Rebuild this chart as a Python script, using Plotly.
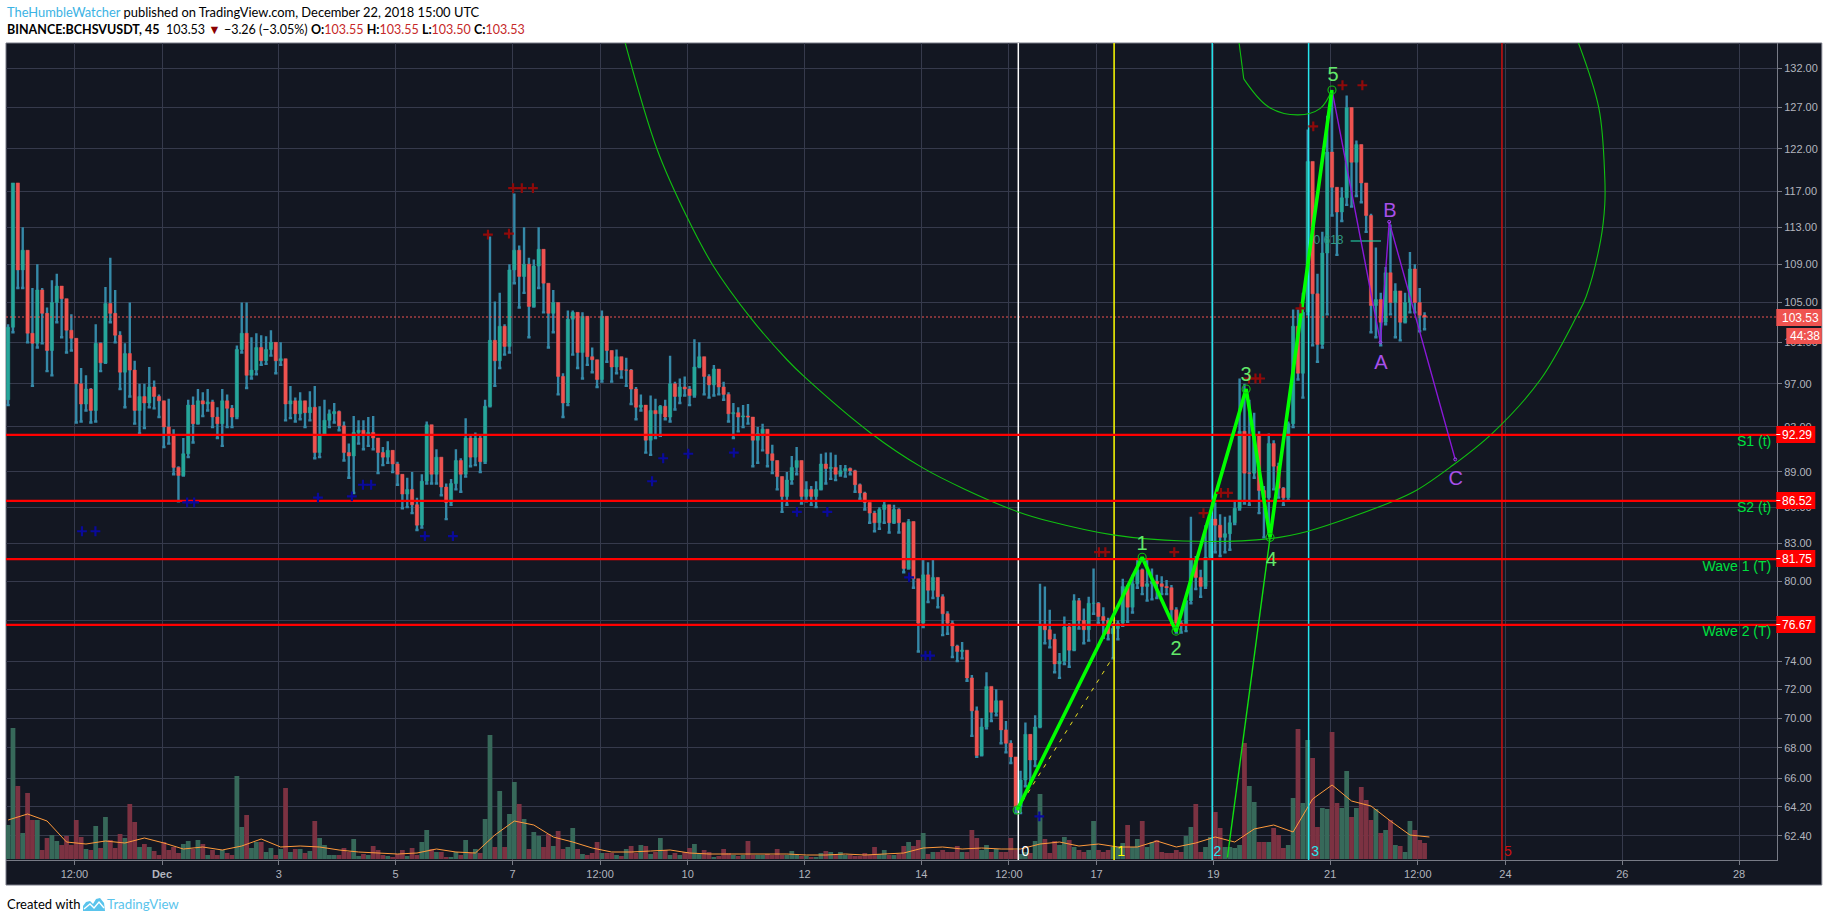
import math
import numpy as np
import plotly.graph_objects as go

# ---- chart data ----
candle_close = [
102.5,118,108.4,110.5,101.9,100.9,106.3,103.9,100.2,105,
106.7,105.4,102.2,101.4,97,95.1,96.5,94.5,100.9,99,
104.9,103.9,101.7,98.1,99.9,98.3,94.5,95.8,95.2,96.7,
95.8,95.4,93,92.3,89.4,88.7,90.6,95,93.3,95.4,
95.1,95.3,93.9,93.3,95.4,94.7,93.9,100.3,101.9,97.8,
98.3,100.5,99.2,100.3,101,99.2,99.4,95.1,95.4,94.2,
95.4,94.3,94.8,90.7,92.3,93.6,94.2,94.4,93.1,90.7,
90.4,92.5,92.7,92.3,92.5,92,90.7,90.3,90.9,89.7,
88.8,87.1,87.5,86.2,84.5,88.2,93.2,88.8,90.3,87.7,
86.4,88,90,88.8,92,90.3,92,89.9,94.9,101.2,
99.2,102.6,100.6,108.4,110.5,107.7,
109,104.6,108.8,110.6,107,103.9,105,97.7,95.2,103.3,
104,100,103.6,99.6,99.3,97.4,103.6,100.2,98.6,99.6,
98.3,98.3,96.5,94.8,95,91.8,94.5,94.2,94.9,93.9,
97,95.8,96.7,96.5,95.9,98.6,99.6,97.7,96.9,98.4,
96.7,96,94.2,94.3,93.9,94,93.9,91.8,92.4,92.8,
90.6,90,88.6,
86.9,88.3,89.4,90,86.9,87.5,86.9,87.5,89.7,89.3,
89.4,88.8,89.1,89.3,89.1,87.9,87.2,86.4,85.5,84.7,
85.8,86.2,84.7,85.8,84.7,81,84.8,80.2,76.8,80.5,
79.3,80.3,78.8,77.5,76.8,75.1,74.7,74.8,
72.8,70.5,67.5,69.4,72.2,70.4,71.2,69.2,68.3,67.4,
64.2,65.9,68.9,67.2,69.4,76.7,76.3,75.6,73.8,74,
76.5,74.8,78.5,77,76.3,78.3,78.3,77.3,77,76,
76.4,76.8,79.6,78,79.8,80.9,79.6,79.8,80,79.8,
79.6,79.5,77.8,76.8,76.7,78.5,81.7,80.3,79.6,81.9,
85,
84.5,83.5,83.8,84.7,85.9,92.6,88.9,88.9,92.3,87.4,
86.8,91.5,89.5,87.6,86.8,93.3,102.6,98,104,120.5,
105.9,100.8,110.2,121.6,117.5,114.7,116.3,127,120.4,122.5,
118,114.3,104.7,105.3,103,108.1,105,106.2,103,105,
108.5,105,103.7,103.53]

candle_high = [
102.8,118,114.6,113,110,106.5,109,106.5,104.5,107.3,
108,106.7,105.2,103.8,101,98.5,97.8,96.6,102.8,101,
106.6,109.7,106.3,102.1,100.9,105,99.2,97,97,98.6,
97.3,96,95.2,95.6,92.8,89.5,92,95.5,95.8,96.5,
96.2,96.5,95.5,94.8,96.5,96,95,100.7,105,105,
101.5,101.9,101.7,101.6,102.2,100.5,101,99.4,96.8,95.7,
96.2,95.4,96.3,96.8,94.9,95.5,94.6,95.2,94.5,93.5,
91.5,94,93.6,93.6,93.9,94,91.8,91.2,91.7,90.6,
89.9,88.7,88.5,89,86.8,88.8,93.5,93,91,90.2,
88,88.4,91,90.2,93.8,92.2,92.5,92.3,95.5,112,
105.1,106,102.8,109,116.8,111,
113,109.7,109.5,113,109.5,105.5,106.3,105,98,104.2,
104.2,104,104,102.9,100.5,98.2,104.2,103.4,100.2,100.3,
99.3,99.5,98.4,96.7,96,93.5,95.9,95.6,95,95.5,
99.7,97.2,97.5,97.7,96.8,101.3,101,99,97.9,98.8,
98.3,97.2,96.2,95.2,94.8,95,95.1,93.8,93,93.3,
92.8,91.4,89.8,
88,89,90.4,91.2,89.8,88.2,87.8,88.2,90.6,90.7,
90.7,90.5,89.6,89.6,89.4,89.2,88,87.3,86.4,85.7,
86,86.5,86,86.2,85.9,84,85,84.8,80.2,81.7,
81.5,81.7,80.3,79,77.7,77,75.2,75.4,
74.5,73,70.8,70,73.2,72.2,72,71.2,69.8,68.5,
67.4,66.5,69.7,68.9,70.2,79.8,79.6,77.8,76,74.6,
77.3,76.8,79,78.7,77.9,78.8,81,78.4,78,77.2,
76.8,77,80.2,79.7,80.5,81.8,81,81.7,81,80.5,
80.4,80.1,79.7,78,77,78.7,85.2,82,80.9,84.5,
85.3,
86.4,85.4,85.2,85.3,86.6,97.5,97,95.5,94.3,92.6,
87.8,92.4,91.8,89.8,87.7,93.5,104.3,104.3,106,124.3,
120.5,108,112.5,126,128.9,117,117.5,128.5,126.5,123,
122.3,118,114.5,110.8,106,108.7,113.3,107,105.5,106,
110.3,109,106.5,104]

candle_low = [
95,102,106.5,106.5,101,96.8,100.5,100.9,98.2,97.8,
103,101.5,100,100.2,93.4,93.5,94.5,93.4,93.5,98.2,
99,103,101,96.5,94.8,95.8,93.3,92.4,92.9,94.8,
94.7,93.9,91.2,91.5,88.8,86.5,89,90.3,91.6,93.5,
94,94.5,93,92,91.3,93,93,93.8,100,96.6,
97.5,97.9,98.8,98.9,99.7,98,98.8,93.6,93.8,93.5,
93.7,93,93.6,90.2,90.3,92.9,93,93.4,92.7,90,
88.5,87.2,91.5,91,91.3,91,88.9,89.6,89.8,89,
87.9,85.9,86,85.5,84.1,84.3,88,88,88,87,
85,86.2,87.5,87.3,88.6,89.5,89.6,89,89.8,94.9,
96.8,98.5,99.8,100,107,104.5,
106,101.5,105,106.5,104,100.5,102,96,93.9,95,
99.8,98.5,97.5,98.8,98.1,96.7,97.2,99.1,97.2,98,
97.6,96.8,95.1,93.7,94.5,90.7,90.5,92,92.2,93.7,
93.5,94.6,95.2,95.9,95,95.8,98.6,96,95.7,95.9,
96,95.5,93.5,92,92.6,93,93.3,89.5,89.8,90.9,
89.5,88.9,87.5,
85.6,86.2,88,88.8,86.3,86.5,86.2,86,87.6,88,
88.4,88.3,88.7,88.6,88.8,87.3,86.7,85.8,84.7,84,
84.2,84.7,83.9,85.2,83.9,80.7,81,79.5,74.7,76.5,
78.4,78.7,78,75.9,76,74.3,74,74.2,
72.6,68.8,67.4,67.8,69.3,69.8,70.2,68.3,67.7,67,
63.8,63.8,65.5,65.7,66.8,69.4,75.3,75,73.2,72.8,
73.8,73.6,74.8,76.4,75.3,75.5,77.5,76.8,75.7,75.6,
74.2,75.6,76.6,76.9,77.6,79.5,79,78.5,78.6,78.7,
79,79,76.7,76.1,76.1,76.2,78.3,79.4,78.8,79.5,
81.8,
82.3,82,82.3,82.5,84.6,85.8,86.3,86.2,88.5,85.5,
83.5,83.8,87.5,86.8,86.2,86.6,93,97.4,95.7,103.8,
100.7,99.1,100.5,103.8,114.3,110,113.7,115.5,115.3,116.5,
115.8,112.5,102,101.5,100.7,102.8,103.8,101.5,101.2,103,
104,104,102.1,102.3]

volume = [
34,131,73,26,66,39,39,9,21,24,
18,14,23,14,39,22,10,9,33,11,
42,19,11,25,21,55,37,12,15,12,
8,4,17,9,12,6,15,18,10,19,
15,4,9,4,9,6,4,83,32,44,
11,17,17,7,11,4,10,71,7,10,
10,6,8,38,21,14,4,4,4,11,
7,20,3,5,4,13,9,4,3,2,
5,9,3,11,4,17,29,10,7,7,
2,2,7,4,19,6,10,6,40,124,
12,68,12,45,77,55,
40,10,27,23,12,25,13,28,10,12,
31,10,5,4,6,17,6,6,6,4,
3,10,13,6,14,13,5,7,21,9,
4,6,4,7,11,15,6,9,7,2,
3,10,6,4,3,4,18,4,4,4,
5,4,10,4,4,8,4,3,3,2,
2,6,8,7,5,7,4,4,3,3,
6,4,12,5,9,4,4,5,13,17,
13,19,26,5,7,7,9,7,7,13,
7,7,29,21,9,14,7,10,7,7,
21,9,5,7,6,18,
65,20,6,18,14,22,19,12,9,7,
9,38,9,7,9,12,12,16,34,12,
20,38,12,17,19,7,6,6,9,7,
23,32,55,7,12,22,47,31,12,12,
11,14,116,73,57,17,17,17,31,24,
11,14,61,130,56,119,101,32,51,50,
127,56,51,88,42,51,72,59,39,50,
26,29,39,14,13,7,38,29,19,16]

volume_ma = [
39,45,38,17,15,18,16,21,16,10,12,9,13,20,12,13,12,9,7,6,5,6,10,7,6,24,38,
34,22,17,11,7,7,8,9,6,5,5,5,5,5,4,4,5,4,5,6,11,12,10,11,10,10,
15,17,13,15,12,12,18,12,16,22,17,30,34,27,60,74,58,53,38,24,22]

# time unit: days after 1 December 2018
start_day = -2.635
bar_days = 1 / 12
ma_days = 1 / 3

x_tick_days = [-1.5,0,2,4,6,7.5,9,11,13,14.5,16,18,20,21.5,23,25,27]
x_tick_text = ["12:00","<b>Dec</b>","3","5","7","12:00","10","12","14","12:00","17","19","21","12:00","24","26","28"]
y_ticks = [132,127,122,117,113,109,105,101,97,93,89,86,83,80,77,74,72,70,68,66,64.2,62.4]

level_prices = [92.29,86.52,81.75,76.67]
level_text = ["92.29","86.52","81.75","76.67"]
level_names = ["S1 (t)","S2 (t)","Wave 1 (T)","Wave 2 (T)"]
level_name_prices = [91.6,85.9,81.1,76.1]
last_price = 103.53

wave_days = [14.64,16.78,17.36,18.56,18.97,20.03]
wave_prices = [64.0,81.9,76.2,96.5,83.5,129.2]
wave_text = ["1","2","3","4","5"]
wave_text_days = [16.78,17.36,18.56,18.99,20.05]
wave_text_prices = [82.9,74.8,97.7,81.6,131.0]

abc_days = [20.03,20.86,21.01,22.14]
abc_prices = [129.2,101,113.6,90.1]
abc_text = ["A","B","C"]
abc_text_days = [20.87,21.02,22.15]
abc_text_prices = [98.9,114.7,88.3]

trend_days = [14.64,16.28]
trend_prices = [64.0,74.3]
thin_days = [18.24,18.97]
thin_prices = [61.1,83.5]
fib_days = [20.35,20.87]
fib_prices = [111.5,111.5]

big_arc_days = [7.93,8.48,8.99,9.43,10.07,10.70,11.01,12.12,13.01,13.75,14.66,15.21,16.28,17.48,18.97,19.62,21.08,21.47,22.05,22.77,23.6,24.21,24.38,24.63,24.70,24.70,24.6,24.25]
big_arc_prices = [135.26,121.85,114.1,108.9,103.5,99.3,97.6,92.5,89.4,87.5,85.6,84.8,83.7,83.2,83.4,84.0,86.5,87.4,89.4,92.4,97.4,103.5,105.6,111.6,115.5,118.7,126.9,135.26]
small_arc_days = [18.44,18.52,18.94,19.45,19.83,20.03]
small_arc_prices = [135.26,130.6,127.1,126.1,126.9,129.2]

red_plus_days = [5.58,5.94,6.01,6.16,6.35,16.04,16.15,17.33,17.83,18.13,18.25,18.61,18.72,18.80,19.49,19.71,20.21,20.55]
red_plus_prices = [112.2,112.3,117.4,117.4,117.4,82.3,82.3,82.3,85.5,87.2,87.2,97.5,97.5,97.5,104.4,124.7,129.8,129.8]
blue_plus_days = [-1.37,-1.14,0.43,0.55,2.67,3.25,3.44,3.58,4.50,4.98,8.39,8.58,9.01,9.79,10.87,11.39,12.79,13.07,13.15,15.02]
blue_plus_prices = [84.0,84.0,86.4,86.4,86.8,86.9,87.9,87.9,83.6,83.6,88.2,90.2,90.6,90.7,85.6,85.6,80.3,74.4,74.4,63.6]

cycle_days = [14.66,16.30,17.98,19.63,22.94]
cycle_text = ["0","1","2","3","5"]
cycle_colors = ["#ffffff","#ffff00","#26e6ee","#26e6ee","#cc1010"]
cycle_label_days = [14.78,16.42,18.07,19.74,23.04]

# ---- layout constants ----
W, H = 1828, 922
PL, PR, PT, PB = 6, 1776.7, 43, 860
PANEL_RIGHT = 1821.5
price_min, price_max = 60.95, 135.26
day_min, day_max = -2.671, 27.649
BG = "#131722"; GRID = "#363a4c"; AXIS = "#787b86"; TICK = "#b2b5be"
UP = "#26a69a"; DOWN = "#ef5350"; WICK = "#3589a8"
VOL_UP = "#37695a"; VOL_DOWN = "#7c3242"

def px(x): return (x - PL) / (PR - PL)
def py(y): return (PB - y) / (PB - PT)

close = np.array(candle_close, float)
high = np.array(candle_high, float)
low = np.array(candle_low, float)
open_ = np.r_[close[0] - 7.0, close[:-1]]
high = np.maximum.reduce([high, open_, close])
low = np.minimum.reduce([low, open_, close])
times = start_day + np.arange(len(close)) * bar_days
ma_times = start_day + np.arange(len(volume_ma)) * ma_days
vol_colors = [VOL_UP if c >= o else VOL_DOWN for o, c in zip(open_, close)]

fig = go.Figure()

# volume pane (linear axis y), beneath the price axis y2
fig.add_trace(go.Bar(x=times, y=volume, marker=dict(color=vol_colors, line=dict(width=0)), width=bar_days * 0.98, yaxis="y"))
fig.add_trace(go.Scatter(x=ma_times, y=volume_ma, mode="lines", line=dict(color="#ff9a3c", width=1), yaxis="y"))
for d, t, c in zip(cycle_label_days, cycle_text, cycle_colors):
    fig.add_trace(go.Scatter(x=[d], y=[7], mode="text", text=[t], textfont=dict(size=14, color=c, family="Liberation Sans"), yaxis="y"))

# candles: wicks first, then bodies
fig.add_trace(go.Candlestick(x=times, open=low, close=low, high=high, low=low, yaxis="y2",
    increasing=dict(line=dict(color=WICK, width=2.4), fillcolor=WICK),
    decreasing=dict(line=dict(color=WICK, width=2.4), fillcolor=WICK), whiskerwidth=0))
fig.add_trace(go.Candlestick(x=times, open=open_, close=close,
    high=np.maximum(open_, close), low=np.minimum(open_, close), yaxis="y2",
    increasing=dict(line=dict(color=UP, width=0.5), fillcolor=UP),
    decreasing=dict(line=dict(color=DOWN, width=0.5), fillcolor=DOWN), whiskerwidth=0))

def line(xs, ys, color, width, dash="solid", shape="linear"):
    fig.add_trace(go.Scatter(x=xs, y=ys, mode="lines", yaxis="y2",
                             line=dict(color=color, width=width, dash=dash, shape=shape)))

def text_marks(xs, ys, texts, size, color, pos="middle center"):
    fig.add_trace(go.Scatter(x=xs, y=ys, mode="text", text=texts, textposition=pos, yaxis="y2",
                             textfont=dict(size=size, color=color, family="Liberation Sans")))

line([day_min, day_max], [last_price, last_price], DOWN, 1, dash="2px,2px")
for d, c in zip(cycle_days, cycle_colors):
    line([d, d], [price_min, price_max], c, 1.5)
line(big_arc_days, big_arc_prices, "#10c010", 1.1, shape="spline")
line(small_arc_days[:2], small_arc_prices[:2], "#10c010", 1.1)
line(small_arc_days[1:], small_arc_prices[1:], "#10c010", 1.1, shape="spline")
for p in level_prices:
    line([day_min, day_max], [p, p], "#ff0000", 2.2)
line(trend_days, trend_prices, "#e8e020", 1, dash="4px,6px")
line(thin_days, thin_prices, "#10e010", 1.4)
line(fib_days, fib_prices, "#22c39f", 1.2)
text_marks([19.97], [111.45], ["0.618"], 12, "#2f9a82")
line(abc_days, abc_prices, "#8a18d8", 1.4)
line(wave_days, wave_prices, "#00ff00", 3.6)
fig.add_trace(go.Scatter(x=wave_days, y=wave_prices, mode="markers", yaxis="y2",
    marker=dict(symbol="circle-open", size=8, color="#10c010", line=dict(width=1.1))))
fig.add_trace(go.Scatter(x=abc_days[1:], y=abc_prices[1:], mode="markers", yaxis="y2",
    marker=dict(symbol="circle-open", size=3, color="#a040f0", line=dict(width=1))))
fig.add_trace(go.Scatter(x=red_plus_days, y=red_plus_prices, mode="markers", yaxis="y2",
    marker=dict(symbol="cross-thin", size=7, line=dict(color="#8f0a0a", width=2.2))))
fig.add_trace(go.Scatter(x=blue_plus_days, y=blue_plus_prices, mode="markers", yaxis="y2",
    marker=dict(symbol="cross-thin", size=7, line=dict(color="#0a0a9a", width=2.2))))
text_marks(wave_text_days, wave_text_prices, wave_text, 20, "#62e86a")
text_marks(abc_text_days, abc_text_prices, abc_text, 20, "#a850ea")
text_marks([27.55] * 4, level_name_prices, level_names, 14, "#00e040", pos="middle left")

shapes = []
shapes.append(dict(type="rect", xref="paper", yref="paper", layer="below",
    x0=px(6), x1=px(PANEL_RIGHT), y0=py(885), y1=py(43), fillcolor=BG, line=dict(color=AXIS, width=1)))
annotations = []

def label(x, y, text, size=12, color="black", anchor="left", family="Lato"):
    annotations.append(dict(xref="paper", yref="paper", x=px(x), y=py(y), text=text, showarrow=False,
        xanchor=anchor, yanchor="middle", align=anchor, borderpad=0,
        font=dict(size=size, color=color, family=family)))

def box(x0, x1, y0, y1, text, fill):
    shapes.append(dict(type="rect", xref="paper", yref="paper", x0=px(x0), x1=px(x1), y0=py(y1), y1=py(y0),
        fillcolor=fill, line=dict(width=0)))
    label((x0 + x1) / 2 + 1, (y0 + y1) / 2, text, size=12, color="white", anchor="center", family="Liberation Sans")

box(1776, PANEL_RIGHT, 309, 326, "103.53", DOWN)
box(1786, PANEL_RIGHT, 328, 344, "44:38", DOWN)
for p, t, (y0, y1) in zip(level_prices, level_text, [(426, 443), (492, 509), (550, 567), (616, 633)]):
    box(1776, 1815, y0, y1, t, "#ff0000")
    shapes.append(dict(type="line", xref="paper", yref="paper", x0=px(1776), x1=px(1780),
                       y0=py((y0 + y1) / 2), y1=py((y0 + y1) / 2), line=dict(color="white", width=1)))

label(6, 12, '<span style="color:#3bb3e4">TheHumbleWatcher</span> published on TradingView.com, December 22, 2018 15:00 UTC', size=12.9)
red = "#c62828"
label(6, 29, ('<b>BINANCE:BCHSVUSDT, 45</b>&nbsp; 103.53 <span style="color:#8b0000">▼</span> −3.26 (−3.05%) '
              f'<b>O:</b><span style="color:{red}">103.55</span> <b>H:</b><span style="color:{red}">103.55</span> '
              f'<b>L:</b><span style="color:{red}">103.50</span> <b>C:</b><span style="color:{red}">103.53</span>'), size=12.5)
label(6, 904, "Created with", size=13)
label(106, 904, '<span style="color:#5ac4ec">TradingView</span>', size=13.3)

def path(points, close_path=False):
    s = "M " + " L ".join(f"{px(a):.5f},{py(b):.5f}" for a, b in points)
    return s + (" Z" if close_path else "")

shapes.append(dict(type="path", xref="paper", yref="paper", fillcolor="#5ac4ec", line=dict(width=0),
    path=path([(83,911),(83,906),(86,902),(90,901),(93,904),(96,899),(100,898),(104,903),(105,911)], True)))
shapes.append(dict(type="path", xref="paper", yref="paper", line=dict(color="white", width=1.4),
    path=path([(84,909),(90,904),(94,908),(99,902),(104,908)])))

fig.update_layout(
    width=W, height=H, autosize=False, showlegend=False, hovermode=False,
    margin=dict(l=PL, r=W - PR, t=PT, b=H - PB, pad=0),
    paper_bgcolor="white", plot_bgcolor=BG, boxgap=0.03, boxmode="overlay", barmode="overlay",
    shapes=shapes, annotations=annotations,
    font=dict(family="Liberation Sans", size=11, color=TICK),
    xaxis=dict(type="linear", range=[day_min, day_max], tickmode="array", tickvals=x_tick_days, ticktext=x_tick_text,
               showgrid=True, gridcolor=GRID, gridwidth=1, zeroline=False, rangeslider=dict(visible=False),
               showline=True, linecolor=AXIS, linewidth=1, ticks="outside", ticklen=4, tickcolor=AXIS,
               tickfont=dict(size=11, color=TICK, family="Liberation Sans")),
    yaxis=dict(range=[-1, 816], visible=False, showgrid=False, zeroline=False),
    yaxis2=dict(type="log", overlaying="y", side="right", anchor="x",
                range=[math.log10(price_min), math.log10(price_max)], tickmode="array",
                tickvals=y_ticks, ticktext=[f"{v:.2f}" for v in y_ticks],
                showgrid=True, gridcolor=GRID, gridwidth=1, zeroline=False,
                showline=True, linecolor=AXIS, linewidth=1, ticks="outside", ticklen=4, tickcolor=AXIS,
                tickfont=dict(size=11, color=TICK, family="Liberation Sans")),
)

fig.write_html("out.html", config=dict(displayModeBar=False),
               post_script="document.body.style.margin='0';document.body.style.overflow='hidden';")
